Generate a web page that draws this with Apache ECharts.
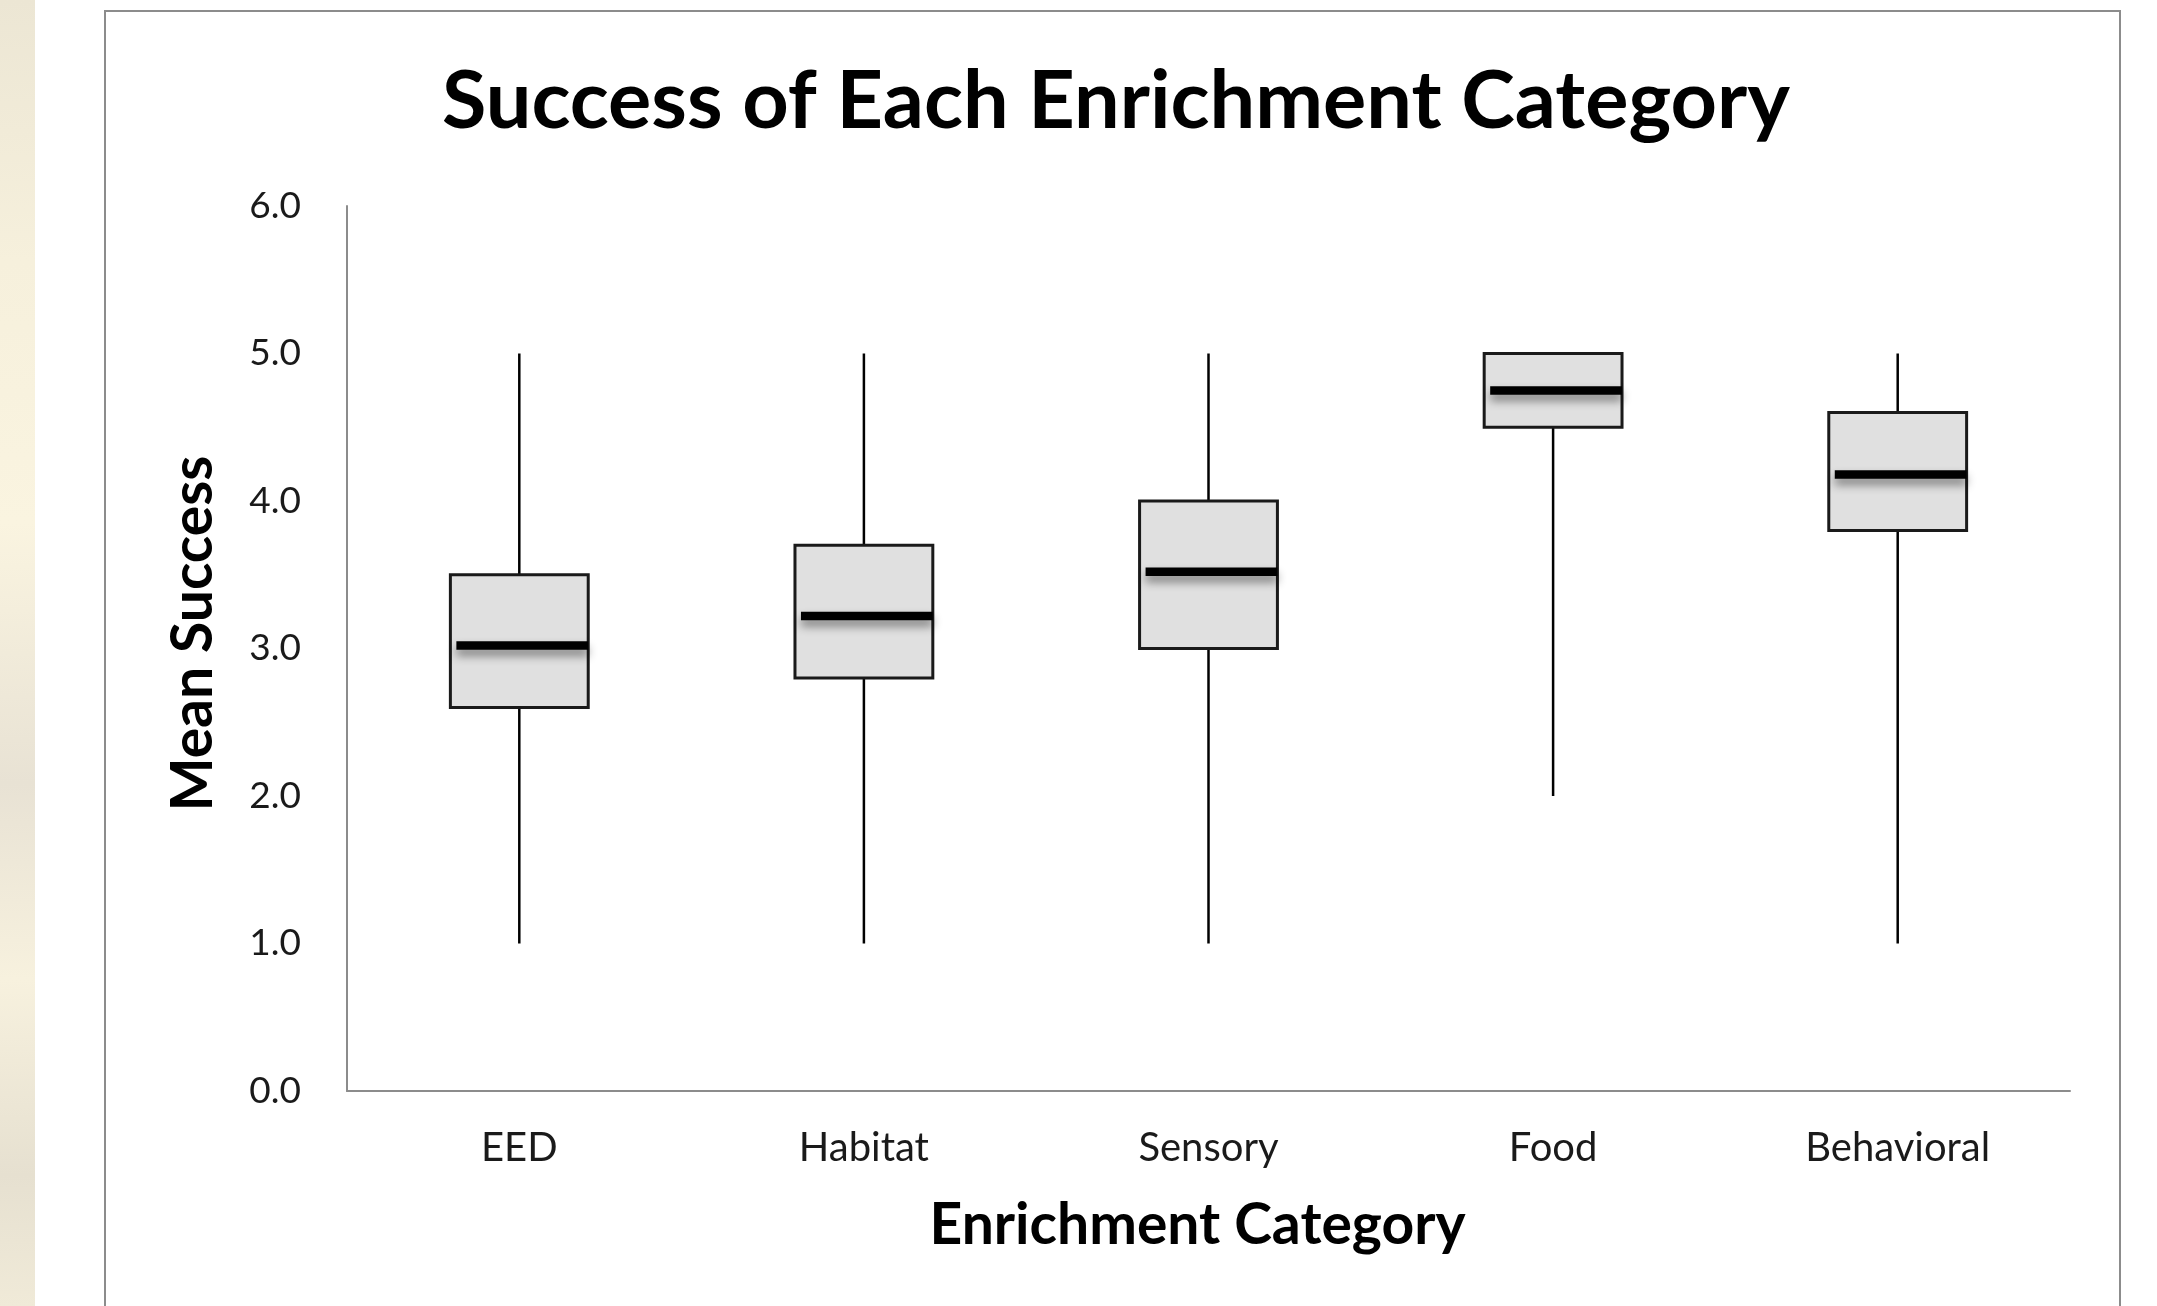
<!DOCTYPE html>
<html>
<head>
<meta charset="utf-8">
<script src="https://cdn.jsdelivr.net/npm/echarts@6/dist/echarts.min.js"></script>
<style>
html,body{margin:0;padding:0;background:#fff;}
#chart{width:2157px;height:1306px;}
</style>
</head>
<body>
<div id="chart"></div>
<script>
const categories = ['EED', 'Habitat', 'Sensory', 'Food', 'Behavioral'];
const minValues = [1.0, 1.0, 1.0, 2.0, 1.0];
const q1Values = [2.6, 2.8, 3.0, 4.5, 3.8];
const medianValues = [3.02, 3.22, 3.52, 4.75, 4.18];
const q3Values = [3.5, 3.7, 4.0, 5.0, 4.6];
const maxValues = [5.0, 5.0, 5.0, 5.0, 5.0];
const yTicks = [0, 1, 2, 3, 4, 5, 6];

const titleText = 'Success of Each Enrichment Category';
const xName = 'Enrichment Category';
const yName = 'Mean Success';

const boxData = categories.map((c, i) => [i, minValues[i], q1Values[i], medianValues[i], q3Values[i], maxValues[i]]);

const FONT = 'Lato, "Open Sans", sans-serif';

function renderBox(params, api) {
  const x = api.value(0);
  const pMin = api.coord([x, api.value(1)]);
  const pQ1 = api.coord([x, api.value(2)]);
  const pMed = api.coord([x, api.value(3)]);
  const pQ3 = api.coord([x, api.value(4)]);
  const pMax = api.coord([x, api.value(5)]);
  const bw = api.size([1, 0])[0] * 0.4;
  const cx = pMed[0];
  const left = cx - bw / 2;
  return {
    type: 'group',
    children: [
      { type: 'line', shape: { x1: cx, y1: pMax[1], x2: cx, y2: pQ3[1] }, style: { stroke: '#000', lineWidth: 2.5 } },
      { type: 'line', shape: { x1: cx, y1: pQ1[1], x2: cx, y2: pMin[1] }, style: { stroke: '#000', lineWidth: 2.5 } },
      { type: 'rect', shape: { x: left, y: pQ3[1], width: bw, height: pQ1[1] - pQ3[1] },
        style: { fill: '#e0e0e0', stroke: '#1a1a1a', lineWidth: 3 } },
      { type: 'line', shape: { x1: left + 6, y1: pMed[1], x2: left + bw, y2: pMed[1] },
        style: { stroke: '#000', lineWidth: 8.5, shadowBlur: 10, shadowColor: 'rgba(0,0,0,0.45)', shadowOffsetY: 6 } }
    ]
  };
}

const chart = echarts.init(document.getElementById('chart'), null, { renderer: 'canvas' });
chart.setOption({
  backgroundColor: '#ffffff',
  animation: false,
  title: {
    text: titleText,
    left: 1111,
    top: 56,
    textAlign: 'center',
    textStyle: { fontFamily: FONT, fontWeight: 'bold', fontSize: 81, color: '#000' }
  },
  graphic: [
    {
      type: 'rect', z: -10, silent: true,
      shape: { x: 0, y: 0, width: 35, height: 1306 },
      style: {
        fill: new echarts.graphic.LinearGradient(0, 0, 0, 1, [
          { offset: 0, color: '#ece6d4' },
          { offset: 0.2, color: '#f6f0dc' },
          { offset: 0.4, color: '#faf4e0' },
          { offset: 0.6, color: '#e8e2d4' },
          { offset: 0.75, color: '#f7f1de' },
          { offset: 0.9, color: '#e6e0d0' },
          { offset: 1, color: '#f0ead8' }
        ])
      }
    },
    {
      type: 'rect', z: -5, silent: true,
      shape: { x: 105, y: 11, width: 2015, height: 1400 },
      style: { fill: 'transparent', stroke: '#8c8c8c', lineWidth: 2 }
    }
  ],
  grid: { left: 347, right: 87, top: 206, bottom: 215, containLabel: false },
  xAxis: {
    type: 'category',
    data: categories,
    boundaryGap: true,
    name: xName,
    nameLocation: 'middle',
    nameGap: 106,
    nameTextStyle: { fontFamily: FONT, fontWeight: 'bold', fontSize: 57, color: '#000', padding: [0, 22, 0, 0] },
    axisLine: { show: true, lineStyle: { color: '#8c8c8c', width: 2 } },
    axisTick: { show: false },
    axisLabel: { fontFamily: FONT, fontSize: 40, color: '#1a1a1a', margin: 37 },
    splitLine: { show: false }
  },
  yAxis: {
    type: 'value',
    min: yTicks[0],
    max: yTicks[yTicks.length - 1],
    interval: 1,
    name: yName,
    nameLocation: 'middle',
    nameGap: 125,
    nameTextStyle: { fontFamily: FONT, fontWeight: 'bold', fontSize: 57, color: '#000', padding: [0, 0, 0, 30] },
    axisLine: { show: true, lineStyle: { color: '#8c8c8c', width: 2 } },
    axisTick: { show: false },
    axisLabel: { fontFamily: FONT, fontSize: 37, color: '#1a1a1a', margin: 46, formatter: v => v.toFixed(1) },
    splitLine: { show: false }
  },
  series: [{
    type: 'custom',
    name: 'Mean Success',
    renderItem: renderBox,
    encode: { x: 0, y: [1, 2, 3, 4, 5] },
    data: boxData
  }]
});
</script>
</body>
</html>
